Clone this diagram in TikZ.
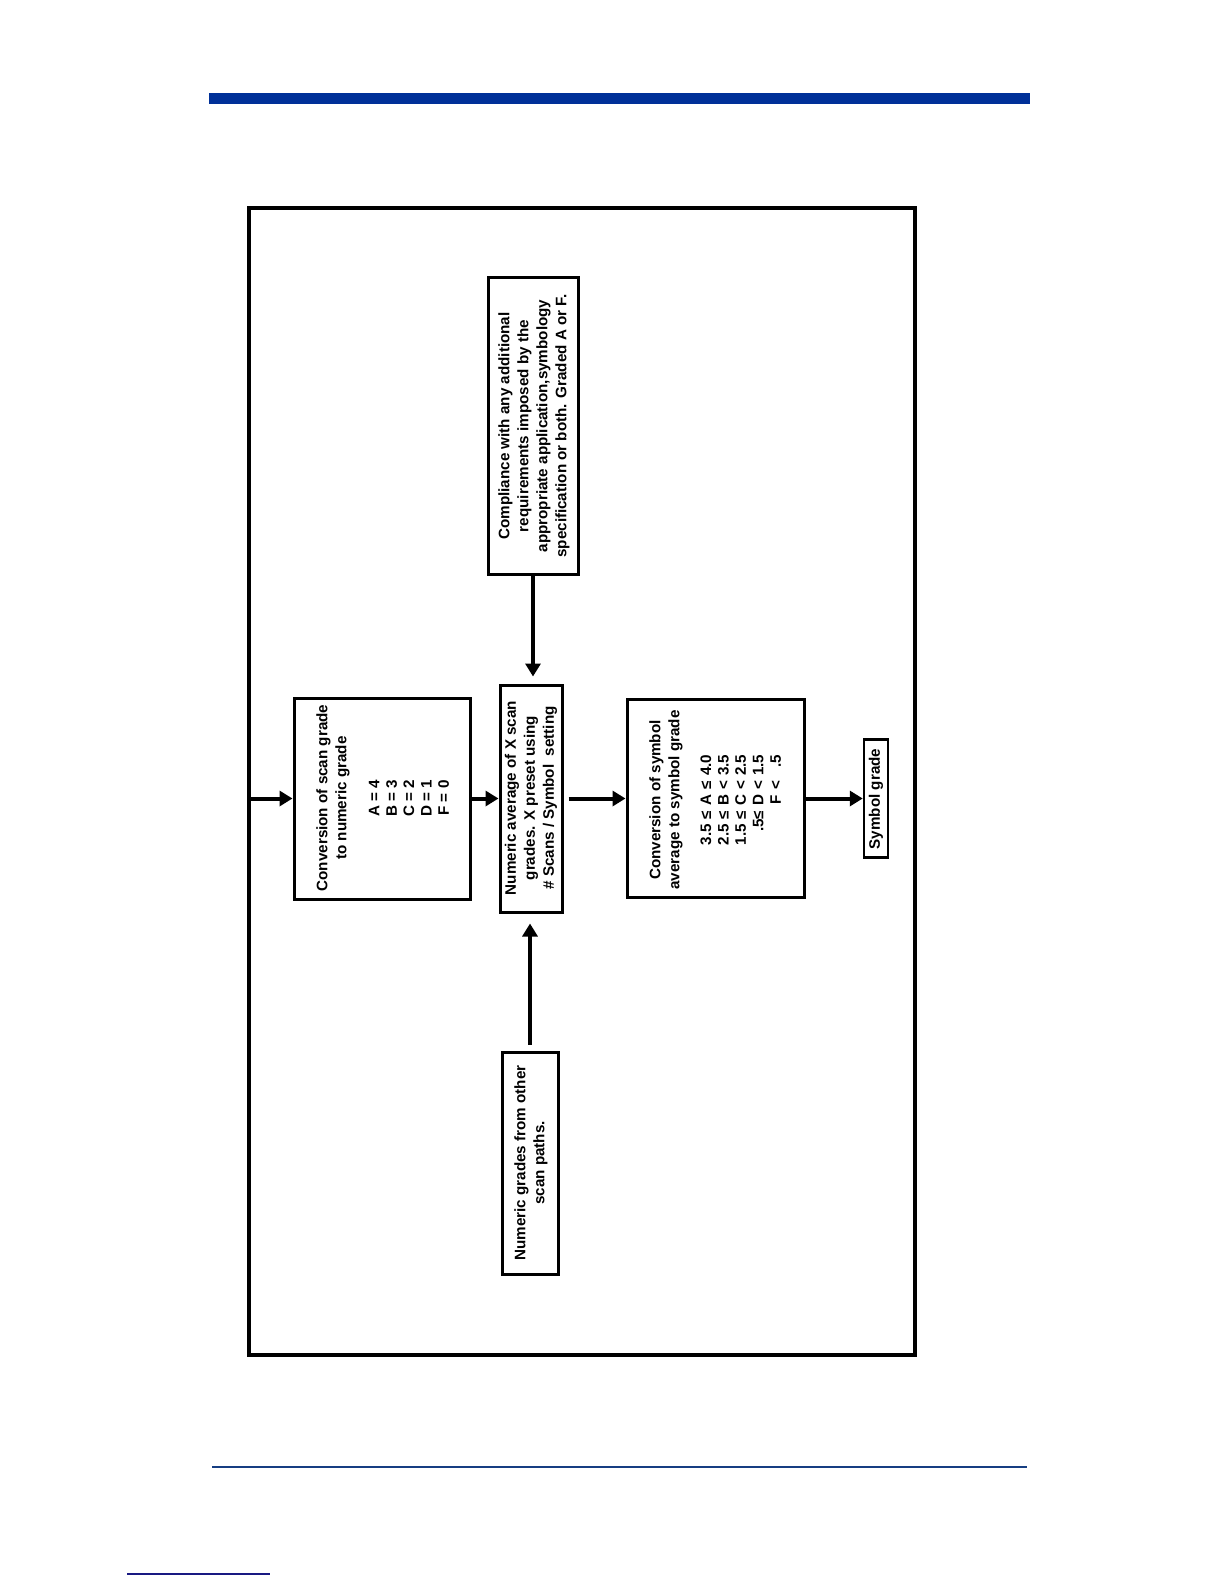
\documentclass[tikz,border=0pt]{standalone}
\usepackage{fontspec}
\setmainfont{Liberation Sans}
\usepackage{graphicx}
\usetikzlibrary{arrows.meta}
\definecolor{barblue}{RGB}{0,48,152}
\definecolor{lineblue}{RGB}{22,62,130}
\definecolor{smallblue}{RGB}{25,25,130}
\begin{document}
\begin{tikzpicture}[x=1pt,y=-1pt,
  box/.style={draw=black, line width=3pt, inner sep=0pt},
  arr/.style={line width=4pt, -{Triangle[length=13pt,width=15pt]}},
  txt/.style={rotate=90, align=center, inner sep=0pt, font=\fontsize{15.2}{19}\selectfont\bfseries},
  tab/.style={rotate=90, align=center, inner sep=0pt, font=\fontsize{15.2}{17.4}\selectfont\bfseries}
]
\useasboundingbox (0,0) rectangle (1224,1584);
\fill[white] (0,0) rectangle (1224,1584);
% page decorations
\fill[barblue] (209,93) rectangle (1030,104);
\draw[lineblue, line width=1.5pt] (212,1467) -- (1027,1467);
\draw[smallblue, line width=1.5pt] (127,1574) -- (270,1574);
% outer frame
\draw[line width=4pt] (249,208) rectangle (915,1355);
\coordinate (in) at (251,798.5);

% boxes
\node[box, minimum width=176pt, minimum height=201pt] (conv) at (382,798.5) {};
\node[box, minimum width=62pt, minimum height=227pt] (avg) at (531,798.5) {};
\node[box, minimum width=90pt, minimum height=297pt] (comp) at (533,425.5) {};
\node[box, minimum width=177pt, minimum height=198pt] (symconv) at (715.5,798.5) {};
\node[box, line width=2.5pt, minimum width=24pt, minimum height=118pt] (sg) at (876,798.5) {};
\node[box, minimum width=56pt, minimum height=222pt] (other) at (530,1163) {};

% texts
\node[txt] (t1) at (333,798) {Conversion of scan grade\\to numeric grade};
\node[tab] (t1b) at (409,798) {A = 4\\B = 3\\C = 2\\D = 1\\F = 0};
\node[txt] (t2) at (531,798) {Numeric average of X scan\\grades. X preset using\\\# Scans / Symbol\ \ setting};
\node[txt] (t3) at (534,426) {Compliance with any additional\\requirements imposed by the\\appropriate application,symbology\\specification or both. Graded A or F.};
\node[txt] (t4) at (666,800) {Conversion of symbol\\average to symbol grade};
\node[tab] (t4b) at (742.5,800) {\begin{tabular}{@{}r@{\hspace{5pt}}c@{\hspace{5pt}}c@{\hspace{5pt}}c@{\hspace{5pt}}r@{}}
3.5 & ≤ & A & ≤ & 4.0\\
2.5 & ≤ & B & < & 3.5\\
1.5 & ≤ & C & < & 2.5\\
\multicolumn{2}{@{}r@{\hspace{5pt}}}{.5≤} & D & < & 1.5\\
 &  & F & < & .5
\end{tabular}};
\node[txt] (t5) at (876,799) {Symbol grade};
\node[txt] (t6) at (531,1163) {Numeric grades from other\\scan paths.};

% connectors
\draw[arr] (in) -- (conv.west);
\draw[arr] (conv.east) -- (avg.west);
\draw[arr, shorten <=5pt] (avg.east) -- (symconv.west);
\draw[arr] (symconv.east) -- (sg.west);
\draw[arr, shorten >=7pt] (comp.south) -- (comp.south |- avg.north);
\draw[arr, shorten <=6pt, shorten >=10pt] (other.north) -- (other.north |- avg.south);
\end{tikzpicture}
\end{document}
